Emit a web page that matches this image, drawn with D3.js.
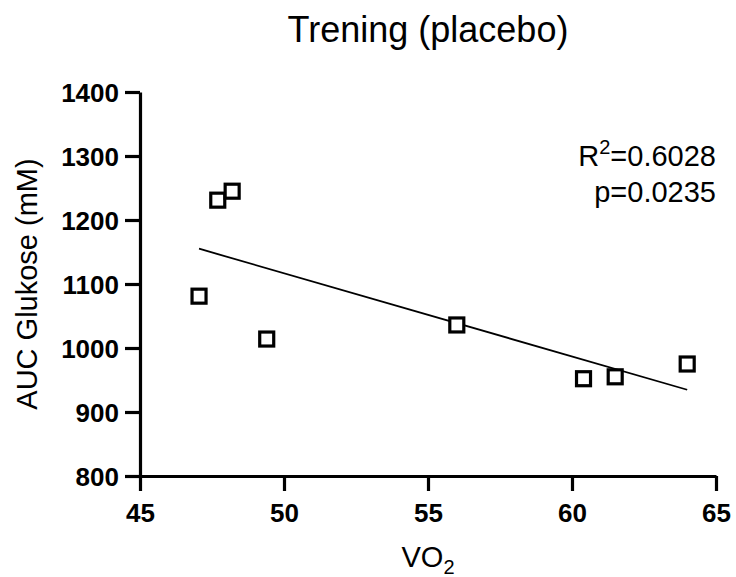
<!DOCTYPE html>
<meta charset="utf-8" />
<style>
  body { margin: 0; background: #fff; }
  svg { font-family: Arial, "Liberation Sans", sans-serif; }
</style>
<body>
<script src="https://d3js.org/d3.v7.min.js"></script>
<script>
  // data
  var vo2 = [47.05, 47.7, 48.2, 49.4, 56.0, 60.4, 61.5, 64.0];
  var auc = [1081, 1231, 1245, 1014, 1036, 952, 955, 975];
  var xTicks = [45, 50, 55, 60, 65];
  var yTicks = [800, 900, 1000, 1100, 1200, 1300, 1400];
  var r2Label = "0.6028";
  var pLabel = "0.0235";

  var width = 736, height = 577;
  var svg = d3.select("body").append("svg")
    .attr("width", width).attr("height", height);

  var x = d3.scaleLinear().domain([45, 65]).range([140, 716]);
  var y = d3.scaleLinear().domain([800, 1400]).range([476, 92]);

  // axes
  var xAxis = svg.append("g")
    .attr("transform", "translate(0," + y(800) + ")")
    .call(d3.axisBottom(x).tickValues(xTicks).tickFormat(d3.format("d"))
      .tickSize(15).tickSizeOuter(0).tickPadding(13));
  var yAxis = svg.append("g")
    .attr("transform", "translate(" + x(45) + ",0)")
    .call(d3.axisLeft(y).tickValues(yTicks).tickFormat(d3.format("d"))
      .tickSize(15).tickSizeOuter(0).tickPadding(6));
  [xAxis, yAxis].forEach(function(a) {
    a.attr("font-family", null).attr("font-size", null);
    a.select(".domain").attr("stroke", "#000").attr("stroke-width", 3.2);
    a.selectAll(".tick line").attr("stroke", "#000").attr("stroke-width", 3.2);
    a.selectAll(".tick text")
      .attr("fill", "#000")
      .style("font-size", "26px")
      .style("font-weight", "bold");
  });
  xAxis.selectAll(".tick text").attr("dy", "0.71em");
  yAxis.selectAll(".tick text").attr("dy", "0.36em");

  // linear regression
  var pts = vo2.map(function(v, i) { return [v, auc[i]]; });
  var mx = d3.mean(vo2), my = d3.mean(auc);
  var sxy = d3.sum(pts, function(d) { return (d[0] - mx) * (d[1] - my); });
  var sxx = d3.sum(pts, function(d) { return (d[0] - mx) * (d[0] - mx); });
  var slope = sxy / sxx, icpt = my - slope * mx;
  var ext = d3.extent(vo2);
  svg.append("line")
    .attr("x1", x(ext[0])).attr("y1", y(icpt + slope * ext[0]))
    .attr("x2", x(ext[1])).attr("y2", y(icpt + slope * ext[1]))
    .attr("stroke", "#000").attr("stroke-width", 1.8);

  // points (open squares)
  svg.selectAll(".pt").data(pts).enter().append("rect")
    .attr("class", "pt")
    .attr("x", function(d) { return x(d[0]) - 7; })
    .attr("y", function(d) { return y(d[1]) - 7; })
    .attr("width", 14).attr("height", 14)
    .attr("fill", "#fff").attr("stroke", "#000").attr("stroke-width", 3.2);

  // title
  svg.append("text")
    .attr("x", 428).attr("y", 42)
    .attr("text-anchor", "middle")
    .style("font-size", "36px")
    .text("Trening (placebo)");

  // axis titles
  var xl = svg.append("text")
    .attr("x", 428).attr("y", 567)
    .attr("text-anchor", "middle")
    .style("font-size", "29px");
  xl.append("tspan").text("VO");
  xl.append("tspan").attr("dy", 7).style("font-size", "20px").text("2");

  svg.append("text")
    .attr("transform", "translate(37,284) rotate(-90)")
    .attr("text-anchor", "middle")
    .style("font-size", "29px")
    .text("AUC Glukose (mM)");

  // stats
  var st = svg.append("text")
    .attr("x", 716).attr("y", 166)
    .attr("text-anchor", "end")
    .style("font-size", "29px");
  st.append("tspan").text("R");
  st.append("tspan").attr("dy", -12).style("font-size", "20px").text("2");
  st.append("tspan").attr("dy", 12).text("=" + r2Label);

  svg.append("text")
    .attr("x", 716).attr("y", 202)
    .attr("text-anchor", "end")
    .style("font-size", "29px")
    .text("p=" + pLabel);
</script>
</body>
